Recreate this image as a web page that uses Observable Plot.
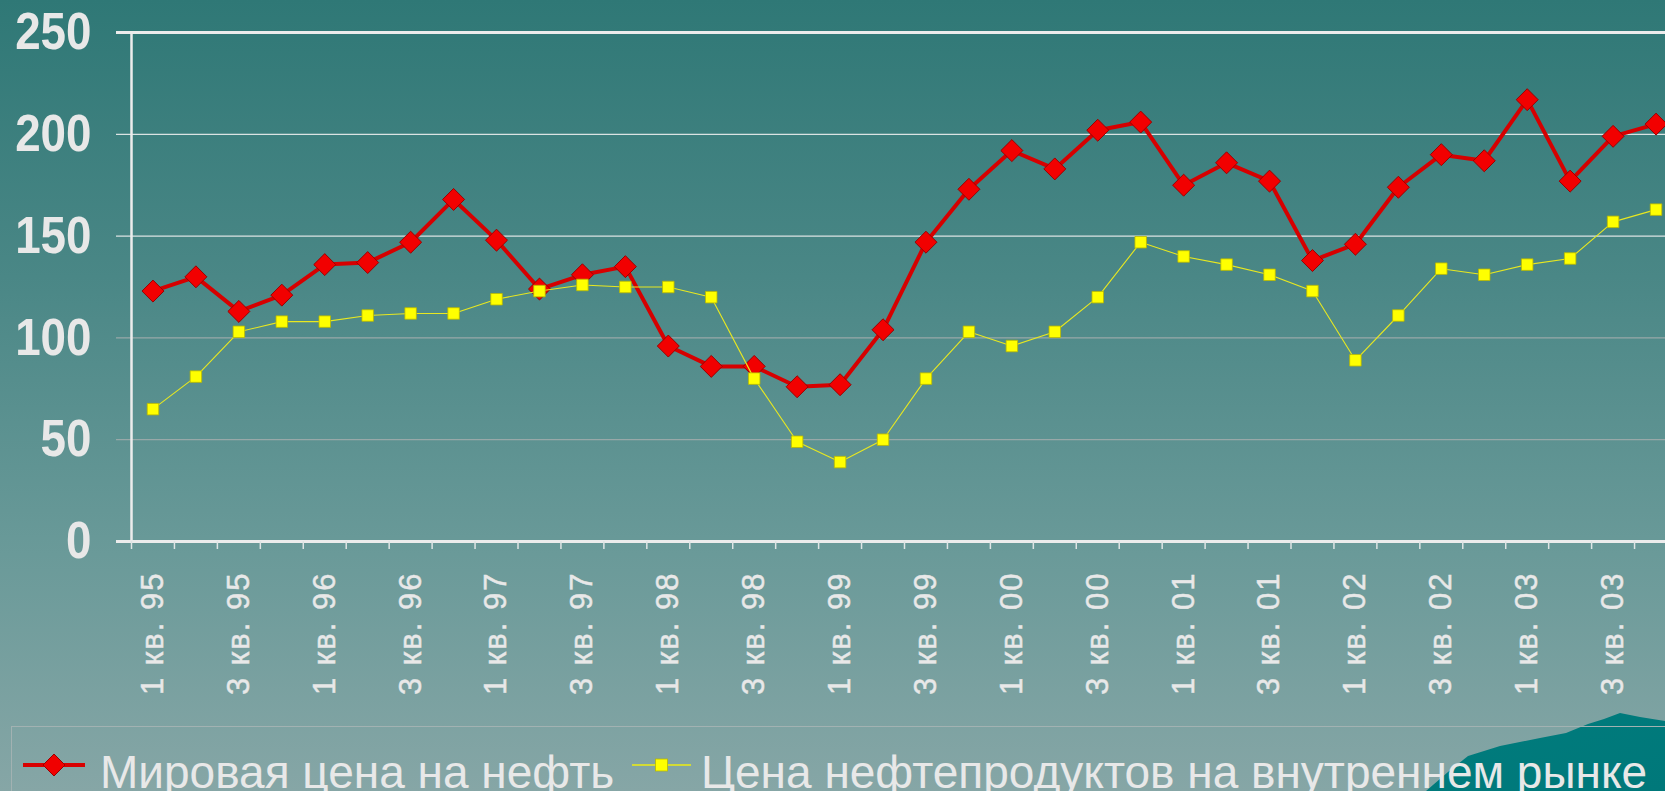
<!DOCTYPE html>
<html>
<head>
<meta charset="utf-8">
<script src="https://cdn.jsdelivr.net/npm/d3@7"></script>
<script src="https://cdn.jsdelivr.net/npm/@observablehq/plot@0.6"></script>
<style>
  html, body { margin: 0; padding: 0; width: 1665px; height: 791px; overflow: hidden; }
  body {
    position: relative;
    background: linear-gradient(to bottom, #2f7876 0%, #4a8786 35%, #6a9a99 70%, #86a6a6 100%);
    font-family: "Liberation Sans", Arial, sans-serif;
  }
  #chart { position: absolute; left: 0; top: 0; }
  #chart svg { overflow: hidden; }
  g[aria-label="x-axis tick label"] text { letter-spacing: 2px; stroke: #e8e8e8; stroke-width: 0.45px; }
  #deco {
    position: absolute; left: 0; top: 0; width: 1665px; height: 791px;
    background: linear-gradient(160deg, #0a9893 0%, #008a87 45%, #00787a 100%);
    clip-path: polygon(1426px 791px, 1448px 772px, 1468px 756px, 1500px 746px, 1540px 738px, 1566px 733px, 1588px 724px, 1604px 719px, 1620px 713px, 1640px 717px, 1665px 721px, 1665px 791px);
  }
  #legend {
    position: absolute; left: 11px; top: 726px; right: 0; bottom: 0;
    border-top: 1.5px solid #a2b2b2; border-left: 1.5px solid #a2b2b2;
  }
  .lg-text {
    position: absolute; top: 22px; font-size: 46px; line-height: 46px;
    color: #e8e8e8; white-space: nowrap; font-family: "Liberation Sans", Arial, sans-serif;
  }
  .lg-sw { position: absolute; }
</style>
</head>
<body>
<div id="deco"></div>
<div id="chart"></div>
<div id="legend">
  <svg class="lg-sw" style="left:10px; top:25px" width="66" height="26">
    <line x1="1" y1="13" x2="63" y2="13" stroke="#d80000" stroke-width="4"/>
    <path d="M32,2 L43,13 L32,24 L21,13 Z" fill="#f00000" stroke="#9a0000" stroke-width="1"/>
  </svg>
  <span class="lg-text" style="left:88px">Мировая цена на нефть</span>
  <svg class="lg-sw" style="left:619px; top:29px" width="62" height="18">
    <line x1="1" y1="9" x2="60" y2="9" stroke="#eeee10" stroke-width="1.5"/>
    <rect x="24.5" y="3" width="12" height="12" fill="#ffff00" stroke="#b8b800" stroke-width="0.8"/>
  </svg>
  <span class="lg-text" style="left:689px">Цена нефтепродуктов на внутреннем рынке</span>
</div>
<script>
// ---- data ----
const quarters = [
  "1 кв. 95","2 кв. 95","3 кв. 95","4 кв. 95",
  "1 кв. 96","2 кв. 96","3 кв. 96","4 кв. 96",
  "1 кв. 97","2 кв. 97","3 кв. 97","4 кв. 97",
  "1 кв. 98","2 кв. 98","3 кв. 98","4 кв. 98",
  "1 кв. 99","2 кв. 99","3 кв. 99","4 кв. 99",
  "1 кв. 00","2 кв. 00","3 кв. 00","4 кв. 00",
  "1 кв. 01","2 кв. 01","3 кв. 01","4 кв. 01",
  "1 кв. 02","2 кв. 02","3 кв. 02","4 кв. 02",
  "1 кв. 03","2 кв. 03","3 кв. 03","4 кв. 03"
];
const worldOilPrice = [
  123, 130, 113, 121, 136, 137, 147, 168, 148, 124, 131, 135,
  96, 86, 86, 76, 77, 104, 147, 173, 192, 183, 202, 206,
  175, 186, 177, 138, 146, 174, 190, 187, 217, 177, 199, 205
];
const domesticProductPrice = [
  65, 81, 103, 108, 108, 111, 112, 112, 119, 123, 126, 125,
  125, 120, 80, 49, 39, 50, 80, 103, 96, 103, 120, 147,
  140, 136, 131, 123, 89, 111, 134, 131, 136, 139, 157, 163
];
const yTicks = [0, 50, 100, 150, 200, 250];
const xTickLabels = ["1 кв. 95","3 кв. 95","1 кв. 96","3 кв. 96","1 кв. 97","3 кв. 97",
  "1 кв. 98","3 кв. 98","1 кв. 99","3 кв. 99","1 кв. 00","3 кв. 00",
  "1 кв. 01","3 кв. 01","1 кв. 02","3 кв. 02","1 кв. 03","3 кв. 03"];
const seriesNames = ["Мировая цена на нефть", "Цена нефтепродуктов на внутреннем рынке"];

// ---- layout ----
const W = 1665, H = 727;
const xRange = [131, 1677];
const step = (xRange[1] - xRange[0]) / quarters.length;

const oil = quarters.map((q, i) => ({q, v: worldOilPrice[i], s: seriesNames[0]}));
const dom = quarters.map((q, i) => ({q, v: domesticProductPrice[i], s: seriesNames[1]}));

const gridStroke = v => (v === 0 || v === 250) ? "#ececec" : (v >= 150 ? "#dbe3e3" : "#98a8a8");
const gridWidth = v => (v === 0 || v === 250) ? 3 : 1.3;

const chart = Plot.plot({
  width: W, height: H,
  marginLeft: 131, marginRight: 0, marginTop: 32, marginBottom: H - 541,
  style: {background: "transparent", fontFamily: "'Liberation Sans', Arial, sans-serif", color: "#e8e8e8", overflow: "hidden"},
  x: {type: "point", domain: quarters, range: xRange, padding: 0.5, label: null},
  y: {domain: [0, 250], label: null},
  marks: [
    Plot.ruleY(yTicks, {y: d => d, stroke: gridStroke, strokeWidth: gridWidth, insetLeft: -15}),
    Plot.ruleX([quarters[0]], {x: d => d, dx: -step / 2, y1: 0, y2: 250, stroke: "#ececec", strokeWidth: 2.5}),
    Plot.axisX({tickSize: 8, tickFormat: () => "", dx: -step / 2, stroke: "#dfe5e5", strokeWidth: 1.5, label: null}),
    Plot.axisX({ticks: xTickLabels, tickSize: 0, tickRotate: -90, tickPadding: 30, fontSize: 31, fill: "#e8e8e8", label: null}),
    Plot.axisY({ticks: yTicks, tickSize: 0, tickPadding: 40, fontSize: 52, fontWeight: "bold", fill: "#e8e8e8", label: null}),
    Plot.line(oil, {x: "q", y: "v", stroke: "#d60000", strokeWidth: 4}),
    Plot.dot(oil, {x: "q", y: "v", symbol: "diamond2", r: 9.9, fill: "#f20000", stroke: "#9a0000", strokeWidth: 1}),
    Plot.line(dom, {x: "q", y: "v", stroke: "#e8e820", strokeWidth: 1.1}),
    Plot.dot(dom, {x: "q", y: "v", symbol: "square", r: 6.5, fill: "#ffff00", stroke: "#b8b800", strokeWidth: 0.8})
  ]
});

// condense the bold y-axis numbers horizontally (as in the original), keeping their anchor point
chart.querySelectorAll('g[aria-label="y-axis tick label"] text').forEach(t => {
  const tr = t.getAttribute("transform");
  if (tr) {
    t.setAttribute("transform", `${tr} scale(0.88,1)`);
  } else {
    const x = parseFloat(t.getAttribute("x")) || 0;
    const yAttr = t.getAttribute("y");
    const yNum = (yAttr && !/em$/.test(yAttr)) ? parseFloat(yAttr) : 0;
    t.setAttribute("transform", `translate(${x},${yNum}) scale(0.88,1)`);
    t.removeAttribute("x");
    if (yAttr && !/em$/.test(yAttr)) t.removeAttribute("y");
  }
});

document.getElementById("chart").appendChild(chart);
</script>
</body>
</html>
